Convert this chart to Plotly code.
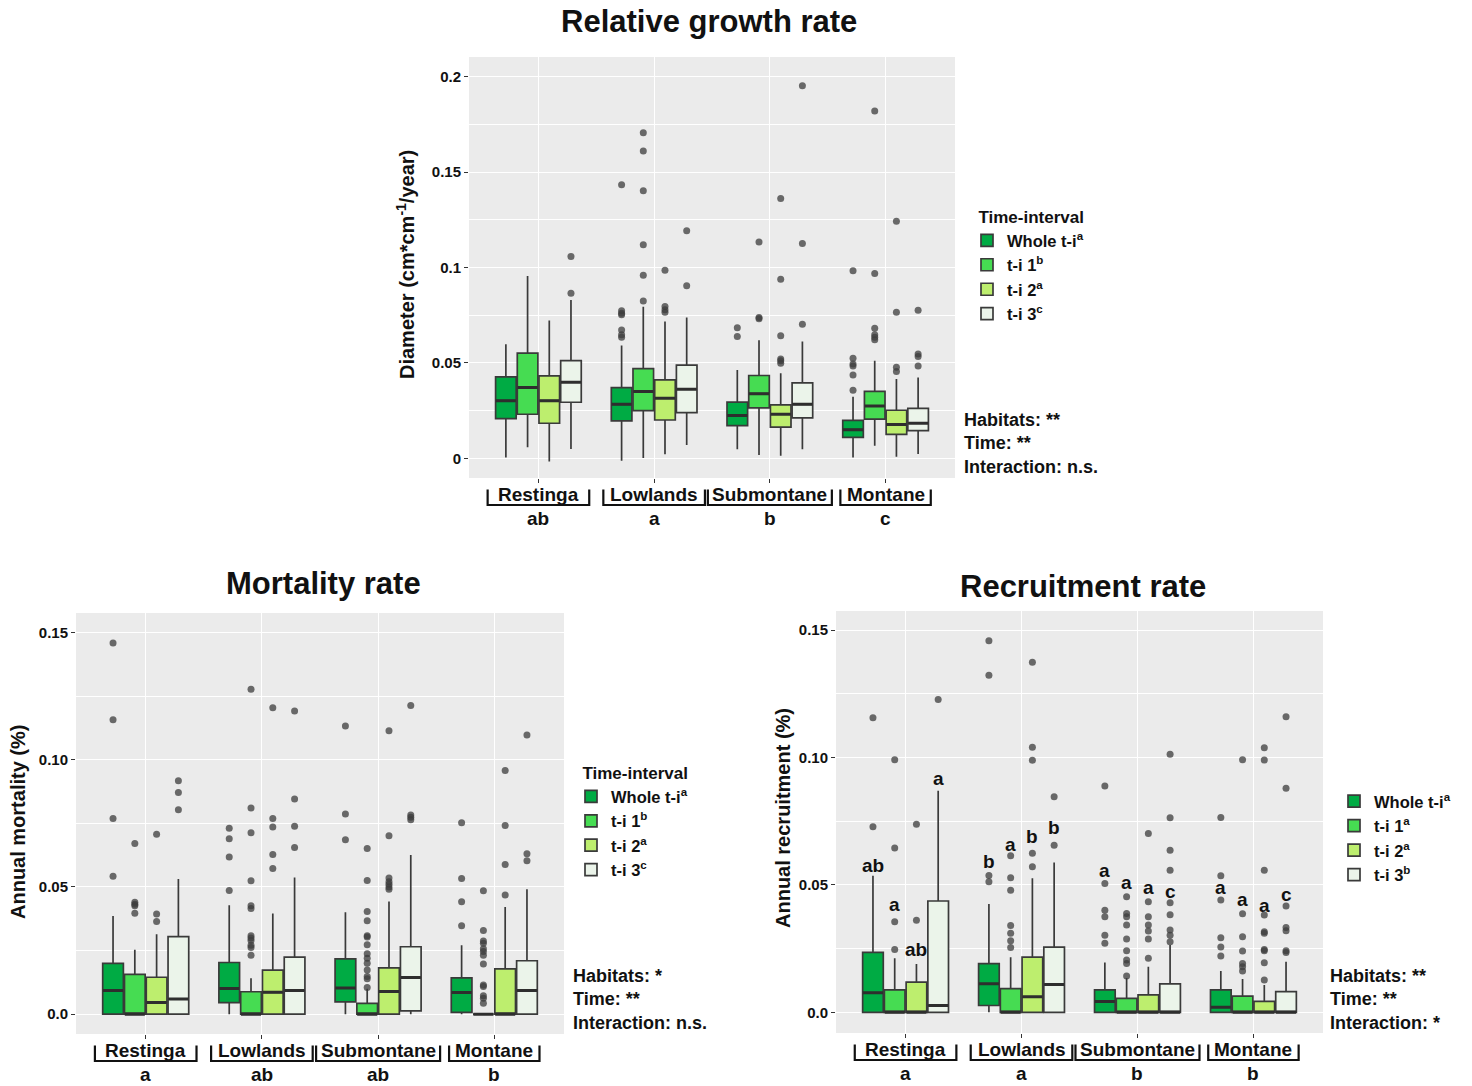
import plotly.graph_objects as go

# ---------------- data ----------------
HABITATS = ["Restinga", "Lowlands", "Submontane", "Montane"]
INTERVALS = ["Whole t-i", "t-i 1", "t-i 2", "t-i 3"]
COLORS = ["#00AB44", "#46DC52", "#BDEE6E", "#EBF4EA"]

# Relative growth rate (rows = intervals, cols = habitats)
RGR_Q1 = [[0.0208, 0.0196, 0.0171, 0.0110],
          [0.0231, 0.0250, 0.0264, 0.0206],
          [0.0184, 0.0201, 0.0164, 0.0126],
          [0.0294, 0.0240, 0.0212, 0.0145]]
RGR_MED = [[0.0302, 0.0283, 0.0224, 0.0150],
           [0.0371, 0.0350, 0.0339, 0.0274],
           [0.0302, 0.0315, 0.0231, 0.0177],
           [0.0399, 0.0362, 0.0283, 0.0184]]
RGR_Q3 = [[0.0427, 0.0371, 0.0295, 0.0199],
          [0.0551, 0.0470, 0.0434, 0.0351],
          [0.0432, 0.0411, 0.0280, 0.0252],
          [0.0512, 0.0488, 0.0395, 0.0262]]
RGR_LO = [[0.0005, -0.0012, 0.0047, 0.0005],
          [0.0058, 0.0002, 0.0017, 0.0066],
          [-0.0017, 0.0021, 0.0014, 0.0009],
          [0.0049, 0.0070, 0.0047, 0.0023]]
RGR_HI = [[0.0598, 0.0591, 0.0463, 0.0323],
          [0.0956, 0.0794, 0.0619, 0.0512],
          [0.0722, 0.0717, 0.0446, 0.0416],
          [0.0830, 0.0738, 0.0612, 0.0423]]
RGR_OUT = [
    [[], [0.1434, 0.0773, 0.0760, 0.0752, 0.0673, 0.0647, 0.0635], [0.0684, 0.0638],
     [0.0983, 0.0524, 0.0495, 0.0484, 0.0437, 0.0357]],
    [[], [0.1706, 0.1610, 0.1402, 0.1119, 0.0960, 0.0825], [0.1133, 0.0738, 0.0731],
     [0.1820, 0.0969, 0.0682, 0.0647, 0.0635, 0.0621]],
    [[], [0.0986, 0.0795, 0.0778, 0.0766], [0.1362, 0.0939, 0.0642, 0.0521, 0.0512, 0.0498],
     [0.1243, 0.0766, 0.0477, 0.0455]],
    [[0.1058, 0.0865], [0.1192, 0.0904], [0.1953, 0.1126, 0.0703], [0.0776, 0.0547, 0.0533, 0.0484]],
]

# Mortality rate
MORT_Q1 = [[0.0, 0.0045, 0.0048, 0.0007],
           [0.0, 0.0, 0.0, 0.0],
           [0.0, 0.0, 0.0, 0.0],
           [0.0, 0.0, 0.0013, 0.0]]
MORT_MED = [[0.0093, 0.0101, 0.0103, 0.0085],
            [0.0, 0.0, 0.0, 0.0],
            [0.0046, 0.0086, 0.0089, 0.0],
            [0.0060, 0.0093, 0.0144, 0.0093]]
MORT_Q3 = [[0.0200, 0.0203, 0.0217, 0.0143],
           [0.0156, 0.0088, 0.0042, 0.0],
           [0.0145, 0.0173, 0.0182, 0.0178],
           [0.0305, 0.0224, 0.0265, 0.0210]]
MORT_LO = [[0.0, 0.0, 0.0, 0.0]] * 4
MORT_HI = [[0.0386, 0.0428, 0.0401, 0.0271],
           [0.0253, 0.0141, 0.0100, 0.0],
           [0.0314, 0.0396, 0.0443, 0.0421],
           [0.0531, 0.0537, 0.0626, 0.0491]]
MORT_OUT = [
    [[0.1459, 0.1157, 0.0769, 0.0542], [0.0731, 0.0690, 0.0618, 0.0486], [0.1133, 0.0787, 0.0686],
     [0.0752, 0.0533, 0.0442, 0.0348]],
    [[0.0671, 0.0440, 0.0432, 0.0426, 0.0397],
     [0.1277, 0.0810, 0.0713, 0.0524, 0.0426, 0.0415, 0.0308, 0.0299, 0.0290, 0.0271, 0.0262, 0.0232],
     [0.0651, 0.0525, 0.0404, 0.0367, 0.0308, 0.0303, 0.0273, 0.0237, 0.0220, 0.0200, 0.0174, 0.0148,
      0.0139, 0.0105],
     [0.0485, 0.0329, 0.0288, 0.0279, 0.0257, 0.0246, 0.0232, 0.0197, 0.0115, 0.0109, 0.0072, 0.0063,
      0.0043]],
    [[0.0707, 0.0394, 0.0364], [0.1205, 0.0769, 0.0736, 0.0628, 0.0573],
     [0.1114, 0.0701, 0.0535, 0.0521, 0.0511, 0.0500, 0.0491], [0.0958, 0.0742, 0.0588, 0.0468]],
    [[0.0918, 0.0871, 0.0804], [0.1192, 0.0846, 0.0739, 0.0655], [0.1213, 0.0783, 0.0774, 0.0764],
     [0.1097, 0.0631, 0.0603]],
]

# Recruitment rate
REC_Q1 = [[0.0, 0.0027, 0.0, 0.0],
          [0.0, 0.0, 0.0, 0.0],
          [0.0, 0.0, 0.0, 0.0],
          [0.0, 0.0, 0.0, 0.0]]
REC_MED = [[0.0077, 0.0112, 0.0043, 0.0020],
           [0.0, 0.0, 0.0, 0.0],
           [0.0, 0.0061, 0.0, 0.0],
           [0.0027, 0.0109, 0.0, 0.0]]
REC_Q3 = [[0.0235, 0.0191, 0.0088, 0.0088],
          [0.0088, 0.0093, 0.0055, 0.0064],
          [0.0119, 0.0217, 0.0069, 0.0043],
          [0.0437, 0.0256, 0.0112, 0.0081]]
REC_LO = [[0.0, 0.0, 0.0, 0.0]] * 4
REC_HI = [[0.0536, 0.0425, 0.0196, 0.0162],
          [0.0212, 0.0216, 0.0135, 0.0131],
          [0.0190, 0.0526, 0.0179, 0.0107],
          [0.0870, 0.0588, 0.0264, 0.0199]]
REC_OUT = [
    [[0.1156, 0.0728], [0.1458, 0.1323, 0.0537, 0.0513], [0.0888, 0.0506, 0.0401, 0.0375, 0.0303, 0.0271],
     [0.0765, 0.0536, 0.0441, 0.0293, 0.0256, 0.0221]],
    [[0.0991, 0.0645, 0.0356, 0.0247], [0.0615, 0.0528, 0.0479, 0.0341, 0.0310, 0.0281, 0.0255],
     [0.0454, 0.0388, 0.0375, 0.0343, 0.0288, 0.0242, 0.0205, 0.0192, 0.0143],
     [0.0991, 0.0387, 0.0297, 0.0241, 0.0192, 0.0179, 0.0162]],
    [[0.0738, 0.0361], [0.1374, 0.1040, 0.0989, 0.0624, 0.0571],
     [0.0702, 0.0434, 0.0375, 0.0343, 0.0319, 0.0288, 0.0212],
     [0.1038, 0.0990, 0.0558, 0.0382, 0.0316, 0.0310, 0.0247, 0.0242, 0.0195, 0.0127]],
    [[0.1228], [0.0846, 0.0656], [0.1013, 0.0764, 0.0636, 0.0558, 0.0430, 0.0383, 0.0323, 0.0303, 0.0277],
     [0.1160, 0.0879, 0.0417, 0.0333, 0.0320, 0.0242, 0.0235]],
]
REC_LETTERS = [["ab", "b", "a", "a"],
               ["a", "a", "a", "a"],
               ["ab", "b", "a", "a"],
               ["a", "b", "c", "c"]]
REC_LETTER_Y = [[0.0578, 0.0591, 0.0558, 0.0490],
                [0.0425, 0.0659, 0.0510, 0.0441],
                [0.0247, 0.0692, 0.0490, 0.0421],
                [0.0918, 0.0724, 0.0473, 0.0463]]

RGR_SUP = ["a", "b", "a", "c"]
MORT_SUP = ["a", "b", "a", "c"]
REC_SUP = ["a", "a", "a", "b"]
RGR_HAB_LET = ["ab", "a", "b", "c"]
MORT_HAB_LET = ["a", "ab", "ab", "b"]
REC_HAB_LET = ["a", "a", "b", "b"]
RGR_STATS = ["Habitats: **", "Time: **", "Interaction: n.s."]
MORT_STATS = ["Habitats: *", "Time: **", "Interaction: n.s."]
REC_STATS = ["Habitats: **", "Time: **", "Interaction: *"]

RGR_TICKS = [0, 0.05, 0.1, 0.15, 0.2]
RGR_TICKTEXT = ["0", "0.05", "0.1", "0.15", "0.2"]
RATE_TICKS = [0, 0.05, 0.10, 0.15]
RATE_TICKTEXT = ["0.0", "0.05", "0.10", "0.15"]

# ---------------- style / layout helpers ----------------
W, H = 1472, 1086
FONT = "Liberation Sans, Arial, sans-serif"
INK = "#111111"
DODGE = 0.75
BOXW = 0.178
OFFS = [(-DODGE / 2 + DODGE / 4 * (k + 0.5)) for k in range(4)]


def px_x(x):
    return x / W


def px_y(y):
    return 1 - y / H


def bold(size):
    return dict(family=FONT, size=size, color=INK, weight="bold")


fig = go.Figure()

panels = [
    dict(ax="", q1=RGR_Q1, med=RGR_MED, q3=RGR_Q3, lo=RGR_LO, hi=RGR_HI, out=RGR_OUT,
         sup=RGR_SUP, hab=RGR_HAB_LET, stats=RGR_STATS, legend="legend",
         box=(469, 955, 57, 478), yr=[-0.0103, 0.2103], tv=RGR_TICKS, tt=RGR_TICKTEXT,
         title="Relative growth rate", title_xy=(709, 21),
         ytitle="Diameter (cm*cm<sup>-1</sup>/year)", ytitle_xy=(405, 265),
         stats_xy=(962, 443.5), leg_xy=(967, 201), legtitle="Time-interval"),
    dict(ax="2", q1=MORT_Q1, med=MORT_MED, q3=MORT_Q3, lo=MORT_LO, hi=MORT_HI, out=MORT_OUT,
         sup=MORT_SUP, hab=MORT_HAB_LET, stats=MORT_STATS, legend="legend2",
         box=(76, 564, 613, 1034), yr=[-0.0078, 0.1577], tv=RATE_TICKS, tt=RATE_TICKTEXT,
         title="Mortality rate", title_xy=(323, 583),
         ytitle="Annual mortality (%)", ytitle_xy=(18, 822),
         stats_xy=(571, 999.5), leg_xy=(571, 757), legtitle="Time-interval"),
    dict(ax="3", q1=REC_Q1, med=REC_MED, q3=REC_Q3, lo=REC_LO, hi=REC_HI, out=REC_OUT,
         sup=REC_SUP, hab=REC_HAB_LET, stats=REC_STATS, legend="legend3",
         box=(836, 1323, 611, 1033), yr=[-0.0081, 0.1575], tv=RATE_TICKS, tt=RATE_TICKTEXT,
         title="Recruitment rate", title_xy=(1083, 586),
         ytitle="Annual recruitment (%)", ytitle_xy=(783, 818),
         stats_xy=(1328, 999), leg_xy=(1334, 784), legtitle=None),
]

annotations = []
shapes = []
cat_pos = [i + 1 for i in range(len(HABITATS))]

for p in panels:
    xa, ya = "x" + p["ax"], "y" + p["ax"]
    for k, name in enumerate(INTERVALS):
        xs = [c + OFFS[k] for c in cat_pos]
        fig.add_trace(go.Box(
            x=xs, q1=p["q1"][k], median=p["med"][k], q3=p["q3"][k],
            lowerfence=p["lo"][k], upperfence=p["hi"][k],
            width=BOXW, whiskerwidth=0, boxpoints=False,
            fillcolor=COLORS[k], line=dict(color="#3a3a3a", width=1.7),
            name=f"{name}<sup>{p['sup'][k]}</sup>",
            legend=p["legend"], xaxis=xa, yaxis=ya, hoverinfo="skip",
        ))
        # thicker median bar (ggplot style), drawn as a zero-height box at the median
        fig.add_trace(go.Box(
            x=xs, q1=p["med"][k], median=p["med"][k], q3=p["med"][k],
            lowerfence=p["med"][k], upperfence=p["med"][k],
            width=BOXW * 0.97, whiskerwidth=0, boxpoints=False,
            fillcolor="rgba(0,0,0,0)", line=dict(color="#2e2e2e", width=3),
            showlegend=False, xaxis=xa, yaxis=ya, hoverinfo="skip",
        ))
        ox, oy = [], []
        for c, vals in zip(cat_pos, p["out"][k]):
            for v in vals:
                ox.append(c + OFFS[k])
                oy.append(v)
        fig.add_trace(go.Scatter(
            x=ox, y=oy, mode="markers", showlegend=False, xaxis=xa, yaxis=ya,
            marker=dict(color="rgba(60,60,60,0.75)", size=7, line=dict(width=0)),
            hoverinfo="skip",
        ))

    x0, x1, y0, y1 = p["box"]
    suffix = p["ax"]
    fig.layout["xaxis" + suffix] = dict(
        domain=[px_x(x0), px_x(x1)], range=[0.4, 4.6], anchor=ya,
        tickmode="array", tickvals=cat_pos, ticktext=HABITATS, showticklabels=False,
        ticks="outside", ticklen=4, tickcolor="#333", tickwidth=1.1,
        showgrid=True, gridcolor="white", gridwidth=1.3, zeroline=False,
        showline=False,
    )
    fig.layout["yaxis" + suffix] = dict(
        domain=[px_y(y1), px_y(y0)], range=p["yr"], anchor=xa,
        tickmode="array", tickvals=p["tv"], ticktext=p["tt"],
        tickfont=bold(15),
        ticks="outside", ticklen=4, tickcolor="#333", tickwidth=1.1,
        showgrid=True, gridcolor="white", gridwidth=1.3, zeroline=False,
        minor=dict(tickmode="linear", tick0=0.025, dtick=0.05, showgrid=True,
                   gridcolor="white", gridwidth=0.6, ticks=""),
    )
    # panel background
    shapes.append(dict(type="rect", xref="paper", yref="paper", layer="below",
                       x0=px_x(x0), x1=px_x(x1), y0=px_y(y1), y1=px_y(y0),
                       fillcolor="#EBEBEB", line=dict(width=0)))
    # habitat labels with bracket decorations and group letters
    units_per_px = 4.2 / (x1 - x0)
    for c, h, let in zip(cat_pos, HABITATS, p["hab"]):
        annotations.append(dict(text=h, xref=xa, yref="paper", x=c, y=px_y(y1 + 16),
                                showarrow=False, xanchor="center", yanchor="middle",
                                font=bold(19)))
        annotations.append(dict(text=let, xref=xa, yref="paper", x=c, y=px_y(y1 + 40),
                                showarrow=False, xanchor="center", yanchor="middle",
                                font=bold(19)))
        hw = (5.6 * len(h) + 6) * units_per_px
        yt, yb = px_y(y1 + 11.5), px_y(y1 + 27)
        shapes.append(dict(
            type="path", xref=xa, yref="paper",
            path=f"M {c - hw},{yt} L {c - hw},{yb} L {c + hw},{yb} L {c + hw},{yt}",
            line=dict(color=INK, width=2.2),
        ))
    # titles
    tx, ty = p["title_xy"]
    annotations.append(dict(text=p["title"], xref="paper", yref="paper", x=px_x(tx), y=px_y(ty),
                            showarrow=False, xanchor="center", yanchor="middle", font=bold(31)))
    yx, yy = p["ytitle_xy"]
    annotations.append(dict(text=p["ytitle"], xref="paper", yref="paper", x=px_x(yx), y=px_y(yy),
                            showarrow=False, xanchor="center", yanchor="middle", textangle=-90,
                            font=bold(20)))
    sx, sy = p["stats_xy"]
    annotations.append(dict(text="<br>".join(p["stats"]), xref="paper", yref="paper",
                            x=px_x(sx), y=px_y(sy), showarrow=False, xanchor="left",
                            yanchor="middle", align="left", font=bold(18)))
    lx, ly = p["leg_xy"]
    leg = dict(x=px_x(lx), y=px_y(ly), xanchor="left", yanchor="top",
               bgcolor="rgba(255,255,255,0)", tracegroupgap=0, itemwidth=30,
               font=bold(16.5))
    if p["legtitle"]:
        leg["title"] = dict(text="\u00a0\u00a0" + p["legtitle"], font=bold(17))
    fig.layout[p["legend"]] = leg

# significance letters above recruitment boxes
for k in range(len(INTERVALS)):
    for c, lab, yv in zip(cat_pos, REC_LETTERS[k], REC_LETTER_Y[k]):
        annotations.append(dict(text=lab, xref="x3", yref="y3", x=c + OFFS[k], y=yv,
                                showarrow=False, xanchor="center", yanchor="middle",
                                font=bold(19)))

fig.update_layout(
    width=W, height=H, margin=dict(l=0, r=0, t=0, b=0),
    paper_bgcolor="white", plot_bgcolor="rgba(0,0,0,0)",
    boxmode="overlay", annotations=annotations, shapes=shapes,
    font=dict(family=FONT),
)

fig.write_html("out.html")
